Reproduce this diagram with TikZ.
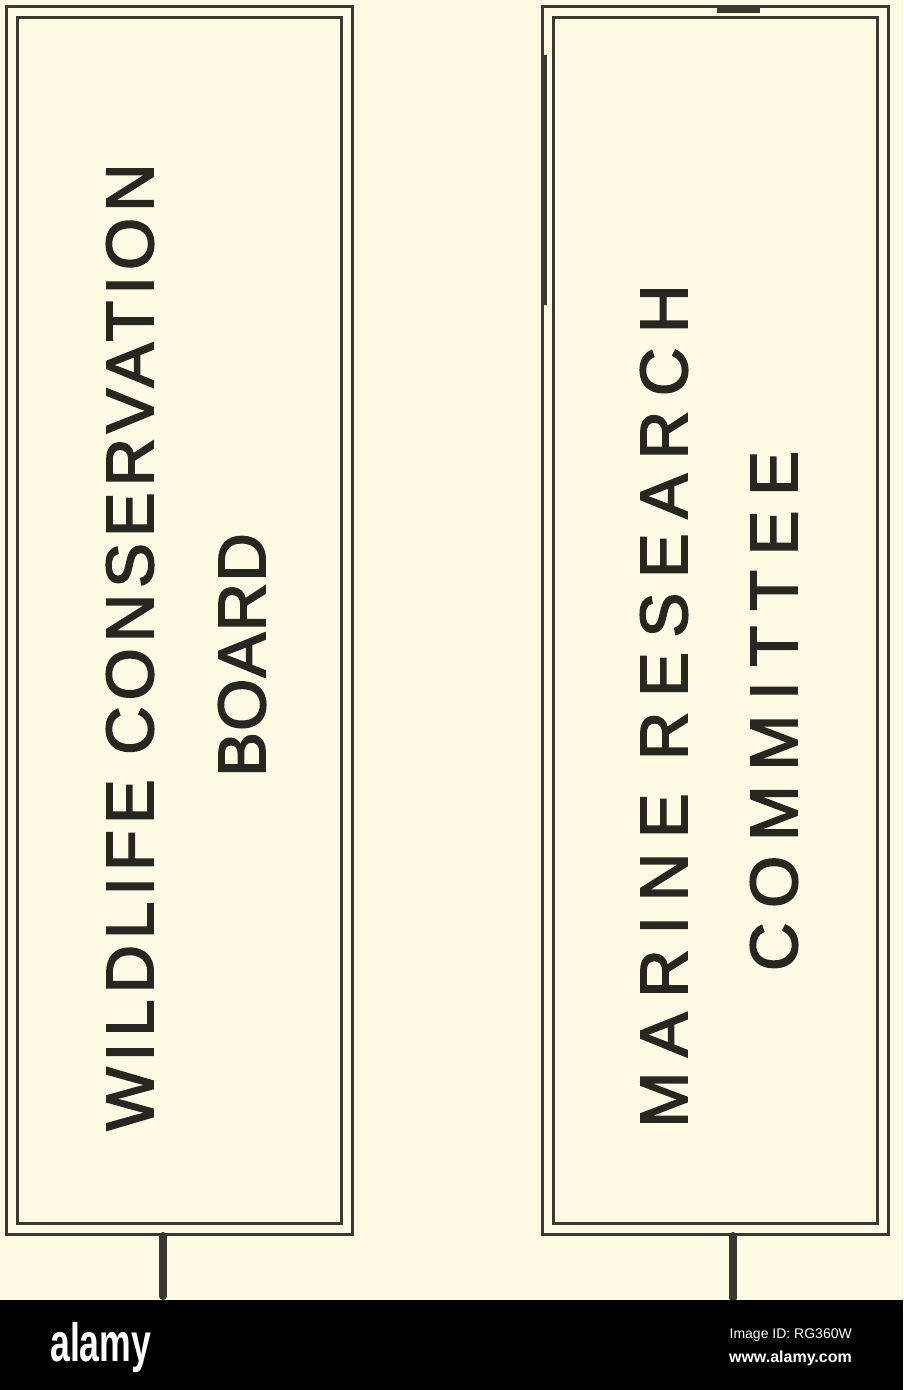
\documentclass[tikz,border=0pt]{standalone}
\usepackage{fontspec}
\setmainfont{Liberation Sans}
\usetikzlibrary{calc}
\definecolor{paper}{RGB}{255,250,227}
\definecolor{ink}{RGB}{58,56,48}
\definecolor{txt}{RGB}{40,38,32}
\begin{document}
\begin{tikzpicture}[x=1pt,y=-1pt,
  boxd/.style={rectangle, draw=ink, line width=3pt, double=paper, double distance=8pt,
    minimum width=335pt, minimum height=1217.5pt, inner sep=0pt, outer sep=7pt},
  lbltext/.style={rotate=90, text=txt, inner sep=0pt},
  stub/.style={draw=ink, line width=8pt, line cap=round},
  bandtxt/.style={text=white, inner sep=0pt}]
\fill[paper] (0,0) rectangle (903,1390);
\useasboundingbox (0,0) rectangle (903,1390);
% boxes
\node[boxd] (lb) at (179.5,620.25) {};
\node[boxd] (rb) at (715,620.25) {};
% labels
\node[lbltext, font={\fontsize{67}{67}\selectfont\addfontfeatures{LetterSpace=9,FakeBold=2.5}}] (lt1) at (130,647) {WILDLIFE CONSERVATION};
\node[lbltext, font={\fontsize{67}{67}\selectfont\addfontfeatures{LetterSpace=2,FakeBold=2.5}}] (lt2) at (242,655) {BOARD};
\node[lbltext, font={\fontsize{67}{67}\selectfont\addfontfeatures{LetterSpace=22,FakeBold=2.5}}] (rt1) at (664,706) {MARINE RESEARCH};
\node[lbltext, font={\fontsize{67}{67}\selectfont\addfontfeatures{LetterSpace=22,FakeBold=2.5}}] (rt2) at (774,711) {COMMITTEE};
% connectors
\coordinate (lend) at (163,1296);
\coordinate (rend) at (733,1298);
\draw[stub] (lb.south -| lend) -- (lend);
\draw[stub] (rb.south -| rend) -- (rend);
% heavy marks on the right box
\draw[ink, line width=7pt] ([xshift=2pt,yshift=-5pt]rb.north) -- ([xshift=45pt,yshift=-5pt]rb.north);
\draw[ink, line width=5pt] ([xshift=4pt,yshift=-50pt]rb.north west) -- ([xshift=4pt,yshift=-300pt]rb.north west);
% band
\fill[black] (0,1300) rectangle (903,1390);
\node[bandtxt, font={\bfseries\fontsize{54}{54}\selectfont}, anchor=base west] (logo) at (50,1361) {\scalebox{0.66}[1]{alamy}};
\node[bandtxt, font={\fontsize{14}{14}\selectfont}, anchor=base east] (imgid) at (852,1338) {Image ID: RG360W};
\node[bandtxt, font={\bfseries\fontsize{16}{16}\selectfont}, anchor=base east] (url) at (852,1362) {www.alamy.com};
\end{tikzpicture}
\end{document}
